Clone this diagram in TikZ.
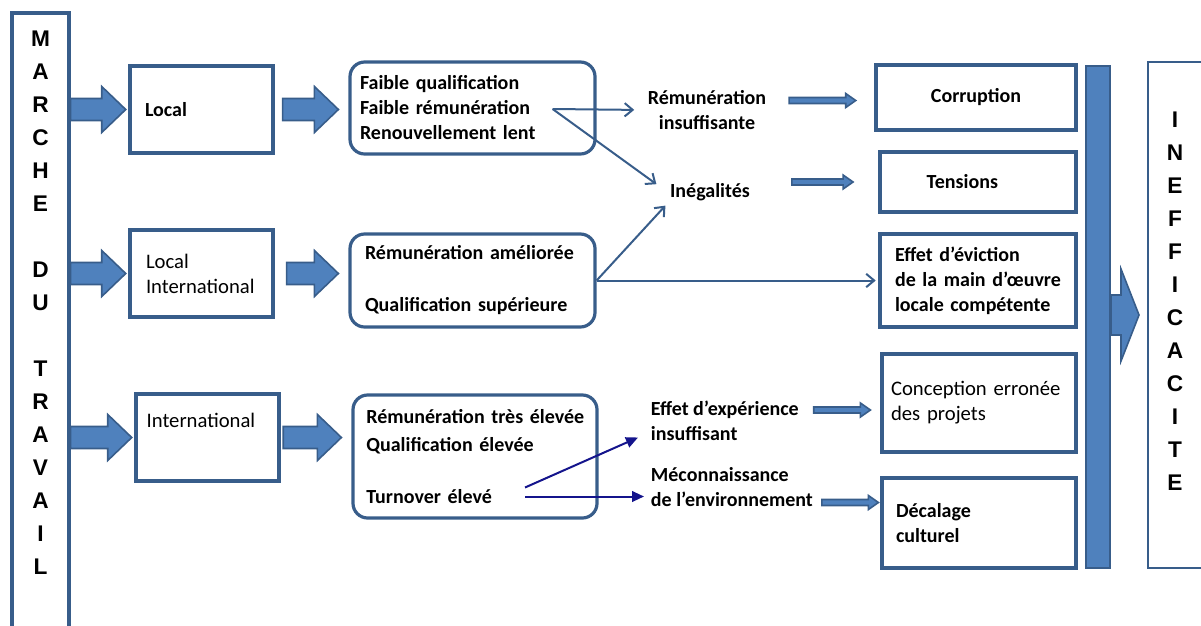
\documentclass[tikz,border=0pt]{standalone}
\usepackage{fontspec}
\setmainfont{Carlito}
\newfontfamily\lettres{Liberation Sans}
\usetikzlibrary{arrows.meta,calc,positioning}

\definecolor{bordbleu}{RGB}{56,93,138}
\definecolor{fondbleu}{RGB}{79,129,189}
\definecolor{marine}{RGB}{20,20,140}

\tikzset{
  boite/.style={draw=bordbleu, line width=2.4pt, inner ysep=0pt, align=left},
  arrondi/.style={boite, rounded corners=11pt},
  mince/.style={font=\fontsize{15.5}{18.75}\selectfont},
  mot/.style={inner sep=2pt, align=left},
  colonne/.style={font=\lettres\bfseries\fontsize{17}{24.75}\selectfont, align=center, inner sep=0pt},
  fine/.style={draw=bordbleu, line width=1.5pt, -{Straight Barb[length=6pt,width=10pt]}},
  marinefl/.style={draw=marine, line width=1.5pt, -{Triangle[length=9pt,width=8pt]}},
  grosse/.style n args={3}{fill=fondbleu, draw=bordbleu, line width=1.2pt,
    to path={let \p1=(\tikztostart), \p2=(\tikztotarget) in
      (\x1,\y1+#1) -- (\x2-#3,\y1+#1) -- (\x2-#3,\y1+#2) -- (\x2,\y1)
      -- (\x2-#3,\y1-#2) -- (\x2-#3,\y1-#1) -- (\x1,\y1-#1) -- cycle}}
}

\begin{document}
\begin{tikzpicture}[x=0.75pt, y=-0.75pt, font=\fontsize{15}{18.75}\selectfont\bfseries]
\clip (0,0) rectangle (1201,625);

%% Cadres lateraux
\node[boite, minimum width=42.75pt, minimum height=477.75pt] (marche) at (40.5,331.5) {};
\node[colonne] (marcheTxt) at (40.5,302.5) {M\\A\\R\\C\\H\\E\\\mbox{}\\D\\U\\\mbox{}\\T\\R\\A\\V\\A\\I\\L};
\node[boite, line width=1.5pt, minimum width=50.25pt, minimum height=379.5pt] (ineff) at (1181.5,315) {};
\node[colonne] (ineffTxt) at (1175,301) {I\\N\\E\\F\\F\\I\\C\\A\\C\\I\\T\\E};
\node[boite, fill=fondbleu, line width=1.5pt, minimum width=18pt, minimum height=376.5pt] (barre) at (1098,317) {};

%% Marches
\node[boite, inner xsep=11.25pt, text width=84.75pt, minimum height=65.25pt] (local) at (201.5,109.5) {Local};
\node[boite, mince, inner xsep=12pt, text width=83.25pt, minimum height=65.25pt] (locint) at (201.5,273.5) {Local\\International};
\node[boite, mince, inner xsep=8pt, text width=91.25pt, minimum height=65.25pt] (inter) at (207.5,437.5) {International\\[7.25pt]\mbox{}};

%% Caracteristiques
\node[arrondi, inner xsep=7.5pt, text width=168.75pt, minimum height=69pt] (faible) at (472.5,108)
  {Faible qualification\\Faible rémunération\\Renouvellement lent};
\node[arrondi, inner xsep=11.25pt, text width=161.25pt, minimum height=69.75pt] (ameliore) at (472.5,280.5)
  {Rémunération améliorée\\[20.25pt]Qualification supérieure};
\node[arrondi, inner xsep=6pt, text width=171pt, minimum height=92.25pt] (eleve) at (475,456.5)
  {\hspace*{4pt}Rémunération très élevée\\[2.25pt]\hspace*{4pt}Qualification élevée\\[20.25pt]\hspace*{4pt}Turnover élevé};

%% Effets
\node[mot, align=center] (remunins) at (707,110) {Rémunération\\insuffisante};
\node[mot] (inegal) at (710,192) {Inégalités};
\node[mot, anchor=west] (effexp) at (648,420.5) {Effet d’expérience\\insuffisant};
\node[mot, anchor=west] (mecon) at (648,487.5) {Méconnaissance\\de l’environnement};

%% Consequences
\node[boite, minimum width=150pt, minimum height=48.75pt, align=center] (corruption) at (976,97.5) {Corruption};
\node[boite, inner xsep=35pt, text width=77pt, minimum height=45pt] (tensions) at (978,182) {Tensions};
\node[boite, inner xsep=11.25pt, text width=124.5pt, minimum height=69.75pt] (eviction) at (978,280.5)
  {Effet d’éviction\\de la main d’œuvre\\locale compétente};
\node[boite, mince, inner xsep=6.75pt, text width=132pt, minimum height=73.5pt] (conception) at (979,403)
  {Conception erronée\\des projets};
\node[boite, inner xsep=10.5pt, text width=124.5pt, minimum height=67.5pt] (decalage) at (979,523)
  {Décalage\\culturel};

%% Grosses fleches
\draw[grosse={8.25pt}{17.25pt}{18pt}] (marche.east |- local.west) to ([xshift=-2pt]local.west);
\draw[grosse={8.25pt}{17.25pt}{18pt}] (marche.east |- locint.west) to ([xshift=-2pt]locint.west);
\draw[grosse={8.25pt}{17.25pt}{18pt}] (marche.east |- inter.west) to ([xshift=-2pt]inter.west);
\draw[grosse={8.25pt}{17.25pt}{18pt}] ([xshift=6pt]local.east) to ([xshift=-7.5pt]faible.west);
\draw[grosse={8.25pt}{17.25pt}{18pt}] ([xshift=9pt]locint.east) to ([xshift=-7.5pt]ameliore.west);
\draw[grosse={8.25pt}{17.25pt}{18pt}] ([xshift=2pt]inter.east) to ([xshift=-7.5pt]eleve.west);
\draw[grosse={15pt}{34.5pt}{13.5pt}] (barre.east |- ineff.west) to ([xshift=-6pt]ineff.west);

%% Fleches moyennes
\draw[grosse={2.25pt}{5.25pt}{7.5pt}] ($(remunins.east |- corruption.west)+(20,3)$) to ([xshift=-14pt]corruption.west);
\draw[grosse={2.25pt}{5.25pt}{7.5pt}] ($(inegal.east |- tensions.west)+(39,0)$) to ([xshift=-19pt]tensions.west);
\draw[grosse={2.25pt}{5.25pt}{7.5pt}] ($(effexp.east |- conception.west)+(12,7)$) to ([xshift=-7.5pt]conception.west);
\draw[grosse={2.25pt}{5.25pt}{7.5pt}] ($(mecon.east)+(6,15)$) to ([xshift=-1.5pt]decalage.west);

%% Fleches fines
\coordinate (faibleRem) at ($(faible.east)+(-44,1)$);
\draw[fine, shorten >=8pt] (faibleRem) -- (remunins.west);
\draw[fine, shorten >=10pt] (faibleRem) -- (inegal.west);
\draw[fine, shorten >=2pt] (ameliore.east) -- (inegal.south west);
\draw[fine, shorten >=2pt] (ameliore.east) -- (eviction.west);

\coordinate (turnHaut) at ($(eleve.center)+(50,31)$);
\coordinate (turnBas) at ($(eleve.center)+(50,40)$);
\draw[marinefl] (turnHaut) -- ($(effexp.west)+(-10,17)$);
\draw[marinefl, shorten >=3pt] (turnBas) -- (turnBas -| mecon.west);

\end{tikzpicture}
\end{document}
